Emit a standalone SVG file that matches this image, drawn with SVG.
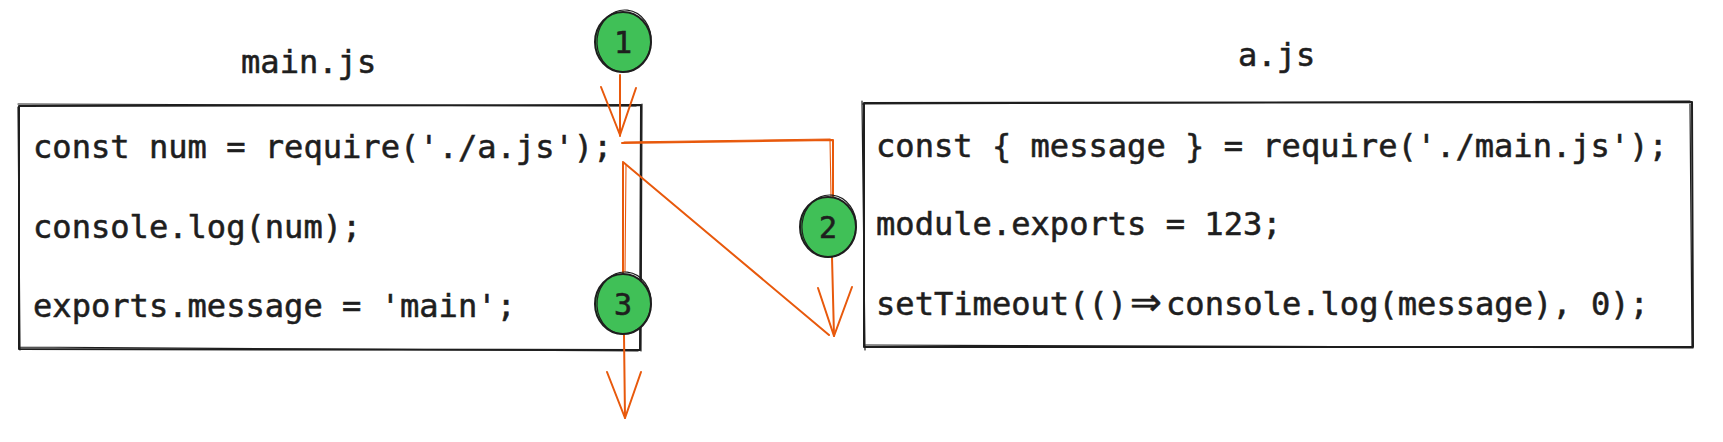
<svg xmlns="http://www.w3.org/2000/svg" width="1723" height="442" viewBox="0 0 1723 442">
<style>
  .code { font-family: "DejaVu Sans Mono", "Liberation Mono", monospace; font-size: 32.1px; fill: #1e1e1e; stroke: #1e1e1e; stroke-width: 0.55px; }
  .arrowglyph { font-family: "DejaVu Sans", "Liberation Sans", sans-serif; font-size: 38px; }
  .num { font-family: "DejaVu Sans Mono", "Liberation Mono", monospace; font-size: 30px; fill: #1e1e1e; stroke: #1e1e1e; stroke-width: 0.6px; text-anchor: middle; }
  .box { fill: none; stroke: #1e1e1e; stroke-width: 2; stroke-linejoin: round; stroke-linecap: round; }
  .box2 { fill: none; stroke: #1e1e1e; stroke-width: 1.2; stroke-linecap: round; }
  .dot { fill: #40c057; }
  .ring { fill: none; stroke: #1e1e1e; stroke-width: 2; }
  .ring2 { fill: none; stroke: #1e1e1e; stroke-width: 1.2; }
  .conn { fill: none; stroke: #e8590c; stroke-width: 2; stroke-linecap: round; stroke-linejoin: round; }
  .conn2 { fill: none; stroke: #e8590c; stroke-width: 1.1; stroke-linecap: round; }
</style>
<rect width="1723" height="442" fill="#ffffff"/>

<g id="main-title">
  <text class="code" x="241" y="73">main.js</text>
</g>
<g id="a-title">
  <text class="code" x="1238" y="66">a.js</text>
</g>

<g id="main-box">
  <path class="box" d="M19 106 L641 105 L640 350 L19 349 Z"/>
  <path class="box2" d="M18 104 L636 106 M642 104 L641 351 M20 347 L638 351 M18 107 L20 350"/>
  <text class="code" x="33" y="158">const num = require('./a.js');</text>
  <text class="code" x="33" y="238">console.log(num);</text>
  <text class="code" x="33" y="317">exports.message = 'main';</text>
</g>

<g id="a-box">
  <path class="box" d="M864 103 L1692 102 L1693 347 L864 347 Z"/>
  <path class="box2" d="M862 104 L1690 101 M1690 104 L1692 346 M866 345 L1693 348 M862 101 L865 350"/>
  <text class="code" x="876" y="157">const { message } = require('./main.js');</text>
  <text class="code" x="876" y="235">module.exports = 123;</text>
  <text class="code" x="876" y="315">setTimeout(()<tspan class="arrowglyph" x="1130">⇒</tspan><tspan x="1166">console.log(message), 0);</tspan></text>
</g>

<g id="connectors">
  <path class="conn" d="M620 75 L620 136"/>
  <path class="conn" d="M601 87 L620 135 L636 88"/>
  <path class="conn" d="M622 143 L833 140 L833 197"/>
  <path class="conn2" d="M624 142 L830 139 L831 196"/>
  <path class="conn" d="M832 257 L834 336"/>
  <path class="conn" d="M818 288 L834 336 L852 287"/>
  <path class="conn" d="M623 162 L829 335"/>
  <path class="conn" d="M623 163 L623 273"/>
  <path class="conn2" d="M626 165 L625 272"/>
  <path class="conn" d="M624 335 L625 418"/>
  <path class="conn" d="M607 372 L625 418 L641 372"/>
</g>

<g id="step-1">
  <ellipse class="dot" cx="623" cy="42" rx="28" ry="30"/>
  <ellipse class="ring" cx="623" cy="42" rx="28" ry="30"/>
  <ellipse class="ring2" cx="624" cy="41" rx="27" ry="31" transform="rotate(6 624 41)"/>
  <text class="num" x="623" y="53">1</text>
</g>
<g id="step-2">
  <ellipse class="dot" cx="828" cy="227" rx="28" ry="30"/>
  <ellipse class="ring" cx="828" cy="227" rx="28" ry="30"/>
  <ellipse class="ring2" cx="829" cy="226" rx="27" ry="31" transform="rotate(6 829 226)"/>
  <text class="num" x="828" y="238">2</text>
</g>
<g id="step-3">
  <ellipse class="dot" cx="623" cy="304" rx="28" ry="30"/>
  <ellipse class="ring" cx="623" cy="304" rx="28" ry="30"/>
  <ellipse class="ring2" cx="624" cy="303" rx="27" ry="31" transform="rotate(6 624 303)"/>
  <text class="num" x="623" y="315">3</text>
</g>
</svg>
